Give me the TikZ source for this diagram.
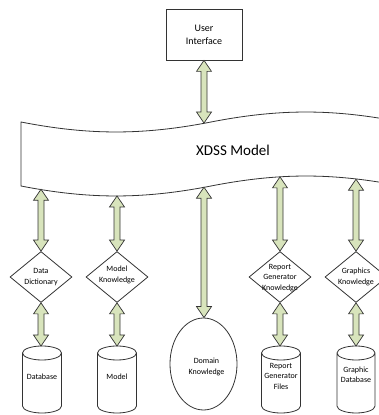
\documentclass[tikz,border=0pt]{standalone}
\usepackage{fontspec}
\setmainfont{Carlito}
\usetikzlibrary{shapes.geometric,calc}
\definecolor{arrowfill}{HTML}{D8E4BC}
\definecolor{edge}{HTML}{333333}

\tikzset{
  x=1pt, y=1pt,
  outline/.style={draw=edge, line width=0.8pt, fill=white},
  smalltext/.style={align=center, font=\fontsize{8}{10.5}\selectfont},
  uibox/.style={outline, minimum width=76pt, minimum height=51pt, align=center,
    font=\fontsize{10}{13}\selectfont},
  decision/.style={outline, diamond, minimum width=62pt, minimum height=51pt, inner sep=0pt},
  store/.style={rectangle, minimum width=39pt, minimum height=67pt, inner sep=0pt, outer sep=0pt},
  oval/.style={outline, ellipse, minimum width=67pt, minimum height=92pt, inner sep=0pt},
  blockarrow/.style={draw=edge, line width=0.7pt, fill=arrowfill, line join=miter},
}

% vertical double-headed block arrow between two anchors
\newcommand\linkarrow[2]{%
  \draw[blockarrow] let \p1=(#1), \p2=(#2) in
    (\x1,\y1) -- ++(7.5pt,-11pt) -- ++(-4.5pt,0pt) -- (\x1+3pt,\y2+11pt)
    -- ++(4.5pt,0pt) -- (\x1,\y2) -- ++(-7.5pt,11pt) -- ++(4.5pt,0pt)
    -- (\x1-3pt,\y1-11pt) -- ++(-4.5pt,0pt) -- cycle;}

% upright drum outline drawn round a store node
\newcommand\drum[1]{%
  \draw[outline] let \p1=(#1.north west), \p2=(#1.south east), \n1={(\x2-\x1)/2} in
    (\x1,\y1-7pt) -- (\x1,\y2+7pt) arc[start angle=180, end angle=360, x radius=\n1, y radius=7pt]
    -- (\x2,\y1-7pt) arc[start angle=0, end angle=180, x radius=\n1, y radius=7pt] -- cycle
    (\x1,\y1-7pt) arc[start angle=180, end angle=360, x radius=\n1, y radius=7pt];}

\begin{document}
\begin{tikzpicture}
\useasboundingbox (0,0) rectangle (379,415);
\clip (0,0) rectangle (379,415);

% wavy banner
\draw[outline] (21,293) .. controls (89,279.7) and (143,279.7) .. (211,293)
  .. controls (279,306.3) and (333,306.3) .. (401,293)
  -- (401,229) .. controls (333,242.3) and (279,242.3) .. (211,229)
  .. controls (143,215.7) and (89,215.7) .. (21,229) -- cycle;
\node[font=\fontsize{15}{18}\selectfont] (xdss) at (233,265) {XDSS Model};

% points on the banner edges
\coordinate (wtop) at (204,292);
\coordinate (w1) at (41,225.7);
\coordinate (w2) at (117,219);
\coordinate (w3) at (204,227.8);
\coordinate (w4) at (280,238.1);
\coordinate (w5) at (356,235.8);

% user interface
\node[uibox] (ui) at (204,380.5) {User\\Interface};

% knowledge diamonds
\node[decision, label={[smalltext]center:Data\\Dictionary}] (dd) at (41,138) {};
\node[decision, label={[smalltext, yshift=2pt]center:Model\\Knowledge}] (mk) at (117,138) {};
\node[decision, label={[smalltext, yshift=-1pt]center:Report\\Generator\\Knowledge}] (rk) at (280,138) {};
\node[decision, label={[smalltext]center:Graphics\\Knowledge}] (gk) at (356,138) {};

% data stores
\node[store] (db) at (42,35.5) {};
\node[store] (md) at (117,35.5) {};
\node[store] (rf) at (281,35.5) {};
\node[store, minimum width=38pt] (gd) at (356,35.5) {};
\drum{db} \drum{md} \drum{rf} \drum{gd}
\node[smalltext] (dbt) at ([yshift=2.5pt]db.center) {Database};
\node[smalltext] (mdt) at ([yshift=2.5pt]md.center) {Model};
\node[smalltext] (rft) at ([yshift=3.5pt]rf.center) {Report\\Generator\\Files};
\node[smalltext] (gdt) at ([yshift=4.5pt]gd.center) {Graphic\\Database};

% domain knowledge
\node[oval, label={[smalltext, xshift=3pt, yshift=-3pt]center:Domain\\Knowledge}] (dk) at (203.5,51) {};

% connectors
\linkarrow{ui.south}{wtop}
\linkarrow{w1}{dd.north}
\linkarrow{dd.south}{db.north}
\linkarrow{w2}{mk.north}
\linkarrow{mk.south}{md.north}
\linkarrow{w3}{dk.north}
\linkarrow{w4}{rk.north}
\linkarrow{rk.south}{rf.north}
\linkarrow{w5}{gk.north}
\linkarrow{gk.south}{gd.north}
\end{tikzpicture}
\end{document}
